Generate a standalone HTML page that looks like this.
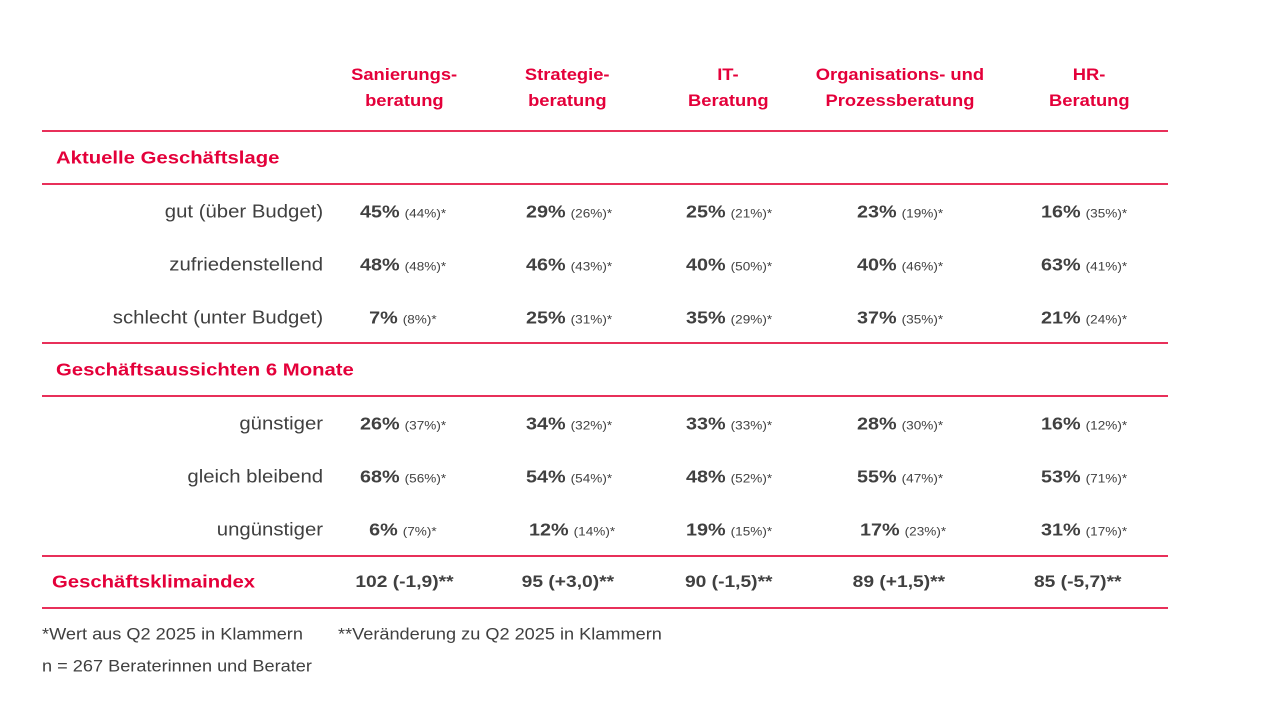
<!DOCTYPE html><html><head><meta charset="utf-8"><style>
body{margin:0;width:1280px;height:720px;background:#fff;position:relative;font-family:"Liberation Sans",Arial,sans-serif;color:#404040;overflow:hidden}
.s{display:inline-block;transform:scaleX(1.13)}
.h{position:absolute;color:#e4003a;font-weight:bold;font-size:17px;text-align:center;line-height:26px;width:240px;margin-left:-120px}
.h .s{transform:scaleX(1.08)}
.line{position:absolute;left:42px;width:1126px;height:2px;background:#e8305a}
.sec{position:absolute;left:56px;color:#e4003a;font-weight:bold;font-size:17.5px;transform:translateY(-50%)}
.sec .s{transform-origin:left center;transform:scaleX(1.16)}
.f .s{transform-origin:left center;transform:scaleX(1.1)}
.lab{position:absolute;right:957px;font-size:18px;transform:translateY(-50%);white-space:nowrap}
.lab .s{transform-origin:right center}
.v{position:absolute;width:200px;margin-left:-100px;text-align:center;transform:translateY(-50%);white-space:nowrap}
.v b{font-size:17.5px}.v small{font-size:12px}
.ix{font-weight:bold;font-size:17px}
.f{position:absolute;left:42px;font-size:16.5px;transform:translateY(-50%);white-space:nowrap}
</style></head><body>
<div class="h" style="left:404px;top:62px"><span class="s">Sanierungs-</span><br><span class="s">beratung</span></div>
<div class="h" style="left:567px;top:62px"><span class="s">Strategie-</span><br><span class="s">beratung</span></div>
<div class="h" style="left:728px;top:62px"><span class="s">IT-</span><br><span class="s">Beratung</span></div>
<div class="h" style="left:900px;top:62px"><span class="s">Organisations- und</span><br><span class="s">Prozessberatung</span></div>
<div class="h" style="left:1089px;top:62px"><span class="s">HR-</span><br><span class="s">Beratung</span></div>
<div class="line" style="top:130px"></div>
<div class="sec" style="top:158px"><span class="s">Aktuelle Geschäftslage</span></div>
<div class="line" style="top:183px"></div>
<div class="lab" style="top:212px"><span class="s">gut (über Budget)</span></div>
<div class="lab" style="top:265px"><span class="s">zufriedenstellend</span></div>
<div class="lab" style="top:318px"><span class="s">schlecht (unter Budget)</span></div>
<div class="line" style="top:342px"></div>
<div class="sec" style="top:370px"><span class="s">Geschäftsaussichten 6 Monate</span></div>
<div class="line" style="top:395px"></div>
<div class="lab" style="top:424px"><span class="s">günstiger</span></div>
<div class="lab" style="top:477px"><span class="s">gleich bleibend</span></div>
<div class="lab" style="top:530px"><span class="s">ungünstiger</span></div>
<div class="line" style="top:555px"></div>
<div class="sec" style="top:582px;left:52px"><span class="s">Geschäftsklimaindex</span></div>
<div class="line" style="top:607px"></div>

<div class="v" style="left:403px;top:212px"><span class="s"><b>45%</b> <small>(44%)*</small></span></div>
<div class="v" style="left:569px;top:212px"><span class="s"><b>29%</b> <small>(26%)*</small></span></div>
<div class="v" style="left:729px;top:212px"><span class="s"><b>25%</b> <small>(21%)*</small></span></div>
<div class="v" style="left:900px;top:212px"><span class="s"><b>23%</b> <small>(19%)*</small></span></div>
<div class="v" style="left:1084px;top:212px"><span class="s"><b>16%</b> <small>(35%)*</small></span></div>

<div class="v" style="left:403px;top:265px"><span class="s"><b>48%</b> <small>(48%)*</small></span></div>
<div class="v" style="left:569px;top:265px"><span class="s"><b>46%</b> <small>(43%)*</small></span></div>
<div class="v" style="left:729px;top:265px"><span class="s"><b>40%</b> <small>(50%)*</small></span></div>
<div class="v" style="left:900px;top:265px"><span class="s"><b>40%</b> <small>(46%)*</small></span></div>
<div class="v" style="left:1084px;top:265px"><span class="s"><b>63%</b> <small>(41%)*</small></span></div>

<div class="v" style="left:403px;top:318px"><span class="s"><b>7%</b> <small>(8%)*</small></span></div>
<div class="v" style="left:569px;top:318px"><span class="s"><b>25%</b> <small>(31%)*</small></span></div>
<div class="v" style="left:729px;top:318px"><span class="s"><b>35%</b> <small>(29%)*</small></span></div>
<div class="v" style="left:900px;top:318px"><span class="s"><b>37%</b> <small>(35%)*</small></span></div>
<div class="v" style="left:1084px;top:318px"><span class="s"><b>21%</b> <small>(24%)*</small></span></div>

<div class="v" style="left:403px;top:424px"><span class="s"><b>26%</b> <small>(37%)*</small></span></div>
<div class="v" style="left:569px;top:424px"><span class="s"><b>34%</b> <small>(32%)*</small></span></div>
<div class="v" style="left:729px;top:424px"><span class="s"><b>33%</b> <small>(33%)*</small></span></div>
<div class="v" style="left:900px;top:424px"><span class="s"><b>28%</b> <small>(30%)*</small></span></div>
<div class="v" style="left:1084px;top:424px"><span class="s"><b>16%</b> <small>(12%)*</small></span></div>

<div class="v" style="left:403px;top:477px"><span class="s"><b>68%</b> <small>(56%)*</small></span></div>
<div class="v" style="left:569px;top:477px"><span class="s"><b>54%</b> <small>(54%)*</small></span></div>
<div class="v" style="left:729px;top:477px"><span class="s"><b>48%</b> <small>(52%)*</small></span></div>
<div class="v" style="left:900px;top:477px"><span class="s"><b>55%</b> <small>(47%)*</small></span></div>
<div class="v" style="left:1084px;top:477px"><span class="s"><b>53%</b> <small>(71%)*</small></span></div>

<div class="v" style="left:403px;top:530px"><span class="s"><b>6%</b> <small>(7%)*</small></span></div>
<div class="v" style="left:572px;top:530px"><span class="s"><b>12%</b> <small>(14%)*</small></span></div>
<div class="v" style="left:729px;top:530px"><span class="s"><b>19%</b> <small>(15%)*</small></span></div>
<div class="v" style="left:903px;top:530px"><span class="s"><b>17%</b> <small>(23%)*</small></span></div>
<div class="v" style="left:1084px;top:530px"><span class="s"><b>31%</b> <small>(17%)*</small></span></div>

<div class="v ix" style="left:404px;top:582px"><span class="s">102 (-1,9)**</span></div>
<div class="v ix" style="left:568px;top:582px"><span class="s">95 (+3,0)**</span></div>
<div class="v ix" style="left:729px;top:582px"><span class="s">90 (-1,5)**</span></div>
<div class="v ix" style="left:899px;top:582px"><span class="s">89 (+1,5)**</span></div>
<div class="v ix" style="left:1078px;top:582px"><span class="s">85 (-5,7)**</span></div>

<div class="f" style="top:635px"><span class="s">*Wert aus Q2 2025 in Klammern</span></div>
<div class="f" style="top:635px;left:338px"><span class="s">**Veränderung zu Q2 2025 in Klammern</span></div>
<div class="f" style="top:667px"><span class="s">n = 267 Beraterinnen und Berater</span></div>
</body></html>
